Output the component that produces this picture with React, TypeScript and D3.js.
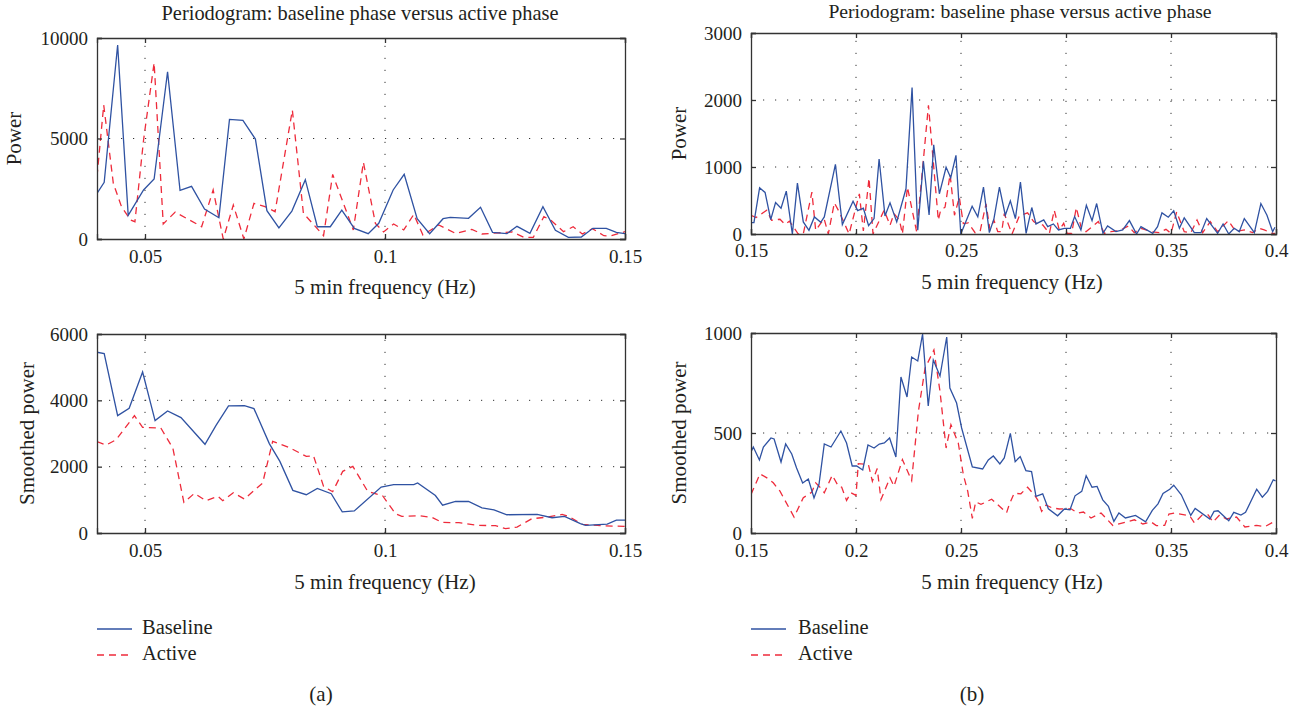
/**
 * Periodograms, baseline phase versus active phase, low (a) and high (b) band
 */
import * as d3 from "d3";
import React, { useEffect, useRef } from "react";

type Pt = [number, number]; // frequency (Hz), power

const lowRawBaseline: Pt[] = [
  [0.04, 2270], [0.0415, 2820], [0.0443, 9650], [0.0465, 1180], [0.0497, 2440], [0.0519, 2985], [0.0547, 8320],
  [0.0573, 2420], [0.0597, 2620], [0.0624, 1490], [0.0654, 1060], [0.0676, 5950], [0.0704, 5900], [0.073, 4970],
  [0.0754, 1410], [0.0779, 550], [0.0806, 1390], [0.0834, 2950], [0.0859, 610], [0.0886, 610], [0.091, 1440],
  [0.0936, 530], [0.0965, 265], [0.0987, 780], [0.1017, 2440], [0.104, 3220], [0.1067, 1010], [0.1093, 265],
  [0.1121, 1010], [0.1136, 1080], [0.1174, 1030], [0.1199, 1575], [0.1224, 330], [0.1254, 265], [0.1275, 630],
  [0.1302, 280], [0.1329, 1610], [0.1355, 430], [0.1382, 85], [0.1409, 100], [0.1433, 530], [0.1461, 530],
  [0.1482, 330], [0.15, 265],
];
const lowRawActive: Pt[] = [
  [0.04, 3100], [0.0414, 6665], [0.0434, 2770], [0.0451, 1610], [0.047, 945], [0.0479, 860], [0.0497, 4925],
  [0.0519, 8770], [0.0538, 750], [0.0563, 1340], [0.0618, 610], [0.0642, 2440], [0.0663, 0], [0.0684, 1690],
  [0.0706, 0], [0.0727, 1770], [0.075, 1610], [0.0771, 1360], [0.0807, 6415], [0.083, 1280], [0.0872, 165],
  [0.0891, 3215], [0.0934, 450], [0.0955, 3815], [0.098, 780], [0.0997, 350], [0.1018, 750], [0.1039, 450],
  [0.106, 1225], [0.1079, 200], [0.1112, 700], [0.1147, 280], [0.1181, 480], [0.1202, 250], [0.1265, 350],
  [0.1289, 85], [0.1309, 85], [0.1331, 1110], [0.1345, 945], [0.1372, 365], [0.1392, 610], [0.1411, 250],
  [0.1432, 515], [0.1456, 165], [0.147, 150], [0.15, 365],
];
const lowSmoothBaseline: Pt[] = [
  [0.04, 5450], [0.0415, 5410], [0.0443, 3540], [0.0467, 3760], [0.0495, 4855], [0.0521, 3390], [0.0547, 3680],
  [0.0575, 3480], [0.0625, 2675], [0.0648, 3245], [0.0674, 3830], [0.0707, 3840], [0.0727, 3750], [0.0759, 2695],
  [0.0781, 2160], [0.0808, 1285], [0.0836, 1155], [0.0859, 1345], [0.0888, 1185], [0.0911, 635], [0.0936, 665],
  [0.0992, 1385], [0.1018, 1460], [0.106, 1460], [0.1068, 1510], [0.1105, 1130], [0.112, 840], [0.1147, 950],
  [0.1174, 950], [0.1202, 760], [0.1227, 700], [0.1254, 550], [0.1317, 560], [0.1348, 460], [0.1374, 500],
  [0.1407, 280], [0.1418, 230], [0.1463, 270], [0.1482, 390], [0.15, 390],
];
const lowSmoothActive: Pt[] = [
  [0.04, 2755], [0.0419, 2650], [0.044, 2815], [0.0478, 3540], [0.0495, 3185], [0.0533, 3165], [0.0558, 2560],
  [0.0581, 925], [0.0603, 1195], [0.0627, 975], [0.0652, 1105], [0.0662, 975], [0.0684, 1215], [0.0707, 1025],
  [0.0745, 1505], [0.0766, 2765], [0.08, 2580], [0.0836, 2310], [0.0851, 2330], [0.0872, 1405], [0.0891, 1245],
  [0.0912, 1860], [0.0933, 2010], [0.0964, 1255], [0.0995, 1125], [0.1022, 580], [0.1035, 500], [0.1074, 520],
  [0.1098, 470], [0.1119, 320], [0.1154, 310], [0.1195, 230], [0.123, 220], [0.1251, 130], [0.1275, 180],
  [0.1306, 430], [0.1338, 480], [0.1369, 560], [0.1383, 500], [0.1411, 260], [0.1449, 220], [0.15, 200],
];

const highRawBaseline: Pt[] = [
  [0.15, 170], [0.1514, 170], [0.1541, 690], [0.1567, 620], [0.1594, 215], [0.1617, 470], [0.1643, 385],
  [0.1668, 640], [0.1697, 0], [0.1721, 760], [0.1749, 180], [0.1776, 55], [0.1802, 255], [0.1832, 175],
  [0.1849, 255], [0.1902, 1040], [0.1935, 140], [0.1986, 490], [0.2008, 350], [0.2035, 385], [0.206, 125],
  [0.2086, 230], [0.211, 1120], [0.2138, 270], [0.2162, 465], [0.2194, 180], [0.2238, 675], [0.2267, 2185],
  [0.2294, 55], [0.2321, 1085], [0.2348, 285], [0.237, 1330], [0.2397, 600], [0.2429, 995], [0.2451, 840],
  [0.2476, 1175], [0.2499, 0], [0.2553, 415], [0.258, 255], [0.2607, 700], [0.2635, 20], [0.2657, 230],
  [0.2683, 700], [0.2711, 280], [0.2735, 495], [0.2759, 230], [0.2783, 775], [0.281, 10], [0.2837, 395],
  [0.2857, 150], [0.2894, 210], [0.2913, 110], [0.294, 150], [0.2964, 60], [0.2992, 85], [0.3021, 85],
  [0.3041, 260], [0.3071, 60], [0.3097, 430], [0.3124, 200], [0.3146, 455], [0.3176, 10], [0.3198, 120],
  [0.3238, 35], [0.327, 60], [0.3302, 200], [0.3336, 0], [0.3357, 110], [0.3413, 10], [0.3436, 110],
  [0.3457, 315], [0.3487, 250], [0.3513, 345], [0.354, 85], [0.3563, 240], [0.3611, 20], [0.3643, 20],
  [0.367, 230], [0.3722, 10], [0.3748, 150], [0.3775, 0], [0.3801, 85], [0.3825, 35], [0.3849, 230],
  [0.3897, 20], [0.3928, 455], [0.3957, 280], [0.3984, 35], [0.3995, 100],
];
const highRawActive: Pt[] = [
  [0.15, 280], [0.1524, 245], [0.1575, 355], [0.1598, 205], [0.1638, 220], [0.1662, 145], [0.1683, 190],
  [0.1725, 0], [0.1749, 0], [0.179, 625], [0.1808, 55], [0.1848, 230], [0.1868, 0], [0.1897, 465], [0.1924, 305],
  [0.1967, 0], [0.2016, 600], [0.2035, 45], [0.2062, 835], [0.2081, 0], [0.2134, 355], [0.2162, 130],
  [0.2181, 305], [0.2207, 205], [0.2221, 0], [0.2245, 700], [0.2289, 30], [0.2345, 1920], [0.2392, 205],
  [0.2403, 355], [0.2424, 400], [0.2448, 890], [0.2469, 280], [0.2492, 550], [0.2511, 155], [0.2535, 165],
  [0.2567, 20], [0.2591, 40], [0.2619, 450], [0.2638, 65], [0.2657, 205], [0.2675, 35], [0.2694, 35],
  [0.2706, 305], [0.2743, 0], [0.2778, 270], [0.2817, 315], [0.2846, 185], [0.2865, 150], [0.2889, 135],
  [0.2921, 10], [0.2944, 355], [0.2968, 60], [0.2989, 160], [0.3005, 10], [0.3027, 10], [0.3049, 395],
  [0.3075, 60], [0.3095, 35], [0.3154, 185], [0.3183, 10], [0.3214, 35], [0.3254, 50], [0.3297, 120],
  [0.3325, 20], [0.3357, 85], [0.3405, 35], [0.3444, 20], [0.3476, 70], [0.35, 10], [0.3527, 330], [0.3563, 35],
  [0.3595, 20], [0.3624, 210], [0.3651, 20], [0.3687, 185], [0.3722, 35], [0.3773, 200], [0.3809, 35],
  [0.3849, 60], [0.3889, 20], [0.3921, 85], [0.3944, 60], [0.3984, 10], [0.3995, 10],
];
const highSmoothBaseline: Pt[] = [
  [0.15, 405], [0.1511, 430], [0.154, 365], [0.1559, 430], [0.1595, 475], [0.161, 470], [0.1643, 355],
  [0.1665, 445], [0.1694, 395], [0.1717, 325], [0.1746, 250], [0.1773, 270], [0.18, 175], [0.1824, 245],
  [0.1849, 445], [0.1881, 430], [0.1928, 510], [0.1955, 450], [0.1982, 335], [0.2003, 335], [0.2032, 315],
  [0.2057, 440], [0.2086, 425], [0.2111, 445], [0.2135, 450], [0.216, 475], [0.219, 380], [0.2214, 780],
  [0.2243, 680], [0.2265, 880], [0.2294, 860], [0.2317, 995], [0.2344, 635], [0.2368, 865], [0.24, 785],
  [0.2432, 980], [0.2447, 725], [0.2479, 650], [0.2503, 525], [0.2554, 330], [0.2603, 320], [0.263, 365],
  [0.2654, 385], [0.2685, 345], [0.2706, 375], [0.2735, 498], [0.2758, 357], [0.2782, 382], [0.2809, 312],
  [0.2836, 307], [0.2857, 183], [0.2889, 196], [0.2916, 121], [0.296, 86], [0.2992, 120], [0.3019, 116],
  [0.3043, 186], [0.3075, 208], [0.3096, 286], [0.3124, 229], [0.3148, 233], [0.3175, 166], [0.3202, 133],
  [0.3228, 58], [0.3252, 100], [0.3283, 75], [0.3331, 88], [0.3379, 56], [0.3411, 113], [0.3438, 146],
  [0.3462, 198], [0.3494, 219], [0.3513, 239], [0.3549, 191], [0.3594, 88], [0.3615, 123], [0.3685, 70],
  [0.3705, 108], [0.3724, 111], [0.3775, 61], [0.3799, 103], [0.3833, 90], [0.3855, 103], [0.3908, 219],
  [0.3935, 179], [0.396, 208], [0.3987, 266], [0.3998, 261],
];
const highSmoothActive: Pt[] = [
  [0.15, 193], [0.1543, 296], [0.1583, 271], [0.1606, 251], [0.1638, 209], [0.1705, 80], [0.1749, 176],
  [0.1789, 204], [0.1808, 251], [0.1824, 234], [0.1849, 201], [0.1887, 289], [0.1916, 234], [0.1932, 229],
  [0.1955, 163], [0.1976, 201], [0.2, 188], [0.2011, 347], [0.2059, 342], [0.2078, 259], [0.2101, 322],
  [0.2119, 168], [0.2162, 276], [0.2181, 234], [0.2221, 367], [0.2265, 262], [0.2297, 608], [0.2329, 824],
  [0.2371, 915], [0.24, 708], [0.2429, 425], [0.2452, 541], [0.2487, 450], [0.2511, 292], [0.2532, 209],
  [0.2554, 73], [0.257, 156], [0.2595, 143], [0.2646, 169], [0.2717, 101], [0.2729, 140], [0.2753, 199],
  [0.2785, 196], [0.2817, 229], [0.2849, 191], [0.2865, 166], [0.2884, 108], [0.2905, 140], [0.2933, 126],
  [0.2968, 120], [0.3024, 121], [0.3056, 100], [0.3083, 105], [0.3119, 75], [0.3167, 100], [0.3223, 38],
  [0.3326, 66], [0.3366, 45], [0.3406, 55], [0.343, 37], [0.347, 38], [0.349, 95], [0.3517, 100], [0.3589, 86],
  [0.3612, 50], [0.3649, 91], [0.3677, 91], [0.37, 55], [0.3732, 91], [0.3764, 70], [0.3812, 80], [0.3852, 30],
  [0.3908, 38], [0.3948, 32], [0.3987, 55], [0.3998, 66],
];

const lowFreqTicks = [0.05, 0.1, 0.15];
const highFreqTicks = [0.15, 0.2, 0.25, 0.3, 0.35, 0.4];
const seriesNames = ["Baseline", "Active"];

const BLUE = "#2f52a2";
const RED = "#ee2b3b";
const INK = "#231f20";
const SERIF = "'Liberation Serif', serif";
const fmtFreq = (d: d3.NumberValue) => String(+d);

interface PanelConfig {
  id: string;
  x0: number;
  x1: number;
  top: number;
  bottom: number;
  xDomain: [number, number];
  xTicks: number[];
  yMax: number;
  yTicks: number[];
  yLabel: string;
  yLabelX: number;
  title?: string;
  titleX?: number;
  titleY?: number;
  titleSize?: number;
  tickLabelY: number;
  xLabelX: number;
  xLabelY: number;
  baseline: Pt[];
  active: Pt[];
}

const panels: PanelConfig[] = [
  {
    id: "a1", x0: 97, x1: 625, top: 38, bottom: 239, xDomain: [0.04, 0.15], xTicks: lowFreqTicks,
    yMax: 10000, yTicks: [0, 5000, 10000], yLabel: "Power", yLabelX: 21,
    title: "Periodogram: baseline phase versus active phase", titleX: 360, titleY: 20, titleSize: 20.4,
    tickLabelY: 262.5, xLabelX: 385, xLabelY: 294,
    baseline: lowRawBaseline, active: lowRawActive,
  },
  {
    id: "a2", x0: 97, x1: 625, top: 334, bottom: 533, xDomain: [0.04, 0.15], xTicks: lowFreqTicks,
    yMax: 6000, yTicks: [0, 2000, 4000, 6000], yLabel: "Smoothed power", yLabelX: 34,
    tickLabelY: 557, xLabelX: 385, xLabelY: 589,
    baseline: lowSmoothBaseline, active: lowSmoothActive,
  },
  {
    id: "b1", x0: 751, x1: 1276, top: 33, bottom: 234, xDomain: [0.15, 0.4], xTicks: highFreqTicks,
    yMax: 3000, yTicks: [0, 1000, 2000, 3000], yLabel: "Power", yLabelX: 686,
    title: "Periodogram: baseline phase versus active phase", titleX: 1020, titleY: 18, titleSize: 19.7,
    tickLabelY: 257, xLabelX: 1012, xLabelY: 289,
    baseline: highRawBaseline, active: highRawActive,
  },
  {
    id: "b2", x0: 751, x1: 1276, top: 333, bottom: 533, xDomain: [0.15, 0.4], xTicks: highFreqTicks,
    yMax: 1000, yTicks: [0, 500, 1000], yLabel: "Smoothed power", yLabelX: 686,
    tickLabelY: 557, xLabelX: 1012, xLabelY: 589,
    baseline: highSmoothBaseline, active: highSmoothActive,
  },
];

const drawPanel = (svg: d3.Selection<SVGSVGElement, unknown, null, undefined>, p: PanelConfig) => {
  const xScale = d3.scaleLinear().domain(p.xDomain).range([p.x0, p.x1]);
  const yScale = d3.scaleLinear().domain([0, p.yMax]).range([p.bottom, p.top]);
  const g = svg.append("g");

  g.append("clipPath")
    .attr("id", `clip-${p.id}`)
    .append("rect")
    .attr("x", p.x0)
    .attr("y", p.top)
    .attr("width", p.x1 - p.x0)
    .attr("height", p.bottom - p.top);

  // dotted grid
  g.selectAll(".vgrid")
    .data(p.xTicks.filter((t) => t !== p.xDomain[0] && t !== p.xDomain[1]))
    .enter()
    .append("line")
    .attr("x1", (d) => xScale(d))
    .attr("x2", (d) => xScale(d))
    .attr("y1", p.bottom)
    .attr("y2", p.top)
    .attr("stroke", "#333")
    .attr("stroke-width", 1)
    .attr("stroke-dasharray", "1.2 10.8");
  g.selectAll(".hgrid")
    .data(p.yTicks.filter((t) => t !== 0 && t !== p.yMax))
    .enter()
    .append("line")
    .attr("x1", p.x0)
    .attr("x2", p.x1)
    .attr("y1", (d) => yScale(d))
    .attr("y2", (d) => yScale(d))
    .attr("stroke", "#333")
    .attr("stroke-width", 1)
    .attr("stroke-dasharray", "1.2 10.8");

  // lines
  const line = d3
    .line<Pt>()
    .x((d) => xScale(d[0]))
    .y((d) => yScale(d[1]));
  g.append("path")
    .attr("clip-path", `url(#clip-${p.id})`)
    .attr("fill", "none")
    .attr("stroke", RED)
    .attr("stroke-width", 1.3)
    .attr("stroke-dasharray", "7 5")
    .attr("d", line(p.active)!);
  g.append("path")
    .attr("clip-path", `url(#clip-${p.id})`)
    .attr("fill", "none")
    .attr("stroke", BLUE)
    .attr("stroke-width", 1.3)
    .attr("d", line(p.baseline)!);

  // axes, ticks point inward
  const bottomAxis = g
    .append("g")
    .attr("transform", `translate(0, ${p.bottom})`)
    .call(d3.axisBottom(xScale).tickValues(p.xTicks).tickSize(-5).tickFormat(fmtFreq));
  const topAxis = g
    .append("g")
    .attr("transform", `translate(0, ${p.top})`)
    .call(d3.axisTop(xScale).tickValues(p.xTicks).tickSize(-5).tickFormat(() => ""));
  const leftAxis = g
    .append("g")
    .attr("transform", `translate(${p.x0}, 0)`)
    .call(d3.axisLeft(yScale).tickValues(p.yTicks).tickSize(-5).tickFormat(d3.format("d")));
  const rightAxis = g
    .append("g")
    .attr("transform", `translate(${p.x1}, 0)`)
    .call(d3.axisRight(yScale).tickValues(p.yTicks).tickSize(-5).tickFormat(() => ""));

  [bottomAxis, topAxis, leftAxis, rightAxis].forEach((a) => {
    a.selectAll(".domain").attr("stroke", "#333").attr("stroke-width", 1.3);
    a.selectAll("line").attr("stroke", "#333").attr("stroke-width", 1.3);
    a.selectAll("text").attr("font-family", SERIF).attr("font-size", 19).attr("fill", INK);
  });
  bottomAxis.selectAll("text").attr("dy", null).attr("y", p.tickLabelY - p.bottom);
  leftAxis.selectAll("text").attr("x", -9).attr("dy", "0.32em");

  const label = (x: number, y: number, text: string, size = 21) =>
    g
      .append("text")
      .attr("x", x)
      .attr("y", y)
      .attr("text-anchor", "middle")
      .attr("font-family", SERIF)
      .attr("font-size", size)
      .attr("fill", INK)
      .text(text);

  label(p.xLabelX, p.xLabelY, "5 min frequency (Hz)");
  if (p.title) label(p.titleX!, p.titleY!, p.title, p.titleSize);
  label(0, 0, p.yLabel).attr("transform", `translate(${p.yLabelX}, ${(p.top + p.bottom) / 2}) rotate(-90)`);
};

const drawLegend = (
  svg: d3.Selection<SVGSVGElement, unknown, null, undefined>,
  x0: number,
  textX: number,
) => {
  const g = svg.append("g");
  const rowY = d3.scalePoint<string>().domain(seriesNames).range([629, 655]);
  const rows = g
    .selectAll("g")
    .data(seriesNames)
    .enter()
    .append("g")
    .attr("transform", (d) => `translate(0, ${rowY(d)})`);
  rows
    .append("line")
    .attr("x1", x0)
    .attr("x2", x0 + 35)
    .attr("stroke", (_, i) => (i === 0 ? BLUE : RED))
    .attr("stroke-width", 1.3)
    .attr("stroke-dasharray", (_, i) => (i === 0 ? null : "7 5"));
  rows
    .append("text")
    .attr("x", textX)
    .attr("y", 5)
    .attr("font-family", SERIF)
    .attr("font-size", 20.5)
    .attr("fill", INK)
    .text((d) => d);
};

const App: React.FC = () => {
  const svgRef = useRef<SVGSVGElement | null>(null);

  useEffect(() => {
    const svg = d3.select(svgRef.current!);
    svg.selectAll("*").remove();

    panels.forEach((p) => drawPanel(svg, p));
    drawLegend(svg, 97, 142);
    drawLegend(svg, 751, 798);

    // sub-figure letters
    [
      { x: 321, t: "(a)" },
      { x: 972, t: "(b)" },
    ].forEach((c) =>
      svg
        .append("text")
        .attr("x", c.x)
        .attr("y", 701)
        .attr("text-anchor", "middle")
        .attr("font-family", SERIF)
        .attr("font-size", 21)
        .attr("fill", INK)
        .text(c.t),
    );
  }, []);

  return <svg ref={svgRef} width={1299} height={710} style={{ position: "absolute", left: 0, top: 0 }} />;
};

export default App;
